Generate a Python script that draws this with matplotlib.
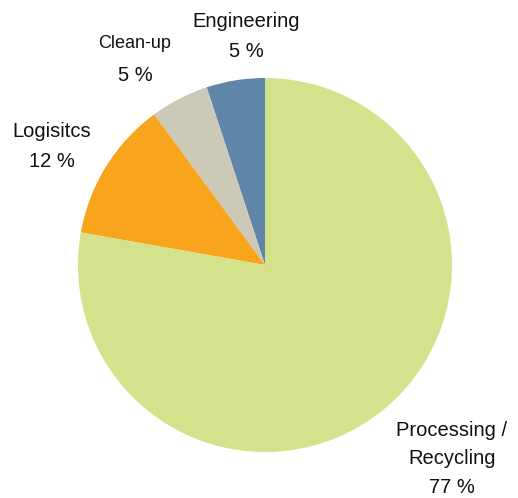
import matplotlib
matplotlib.use('Agg')
import matplotlib.pyplot as plt

# Anteile der Kosten (%), gegen den Uhrzeigersinn ab 12 Uhr
kategorien = ['Engineering', 'Clean-up', 'Logisitcs', 'Processing / Recycling']
anteile = [5, 5, 12, 77]
farben = ['#5f85a9', '#cdc9b9', '#f8a51d', '#d4e28b']

plt.rcParams['font.family'] = ['Liberation Sans', 'DejaVu Sans']

W, H = 518, 498
fig = plt.figure(figsize=(W / 100, H / 100), dpi=100)
cx, cy, r = 265, 265, 187
ax = fig.add_axes([(cx - r) / W, 1 - (cy + r) / H, 2 * r / W, 2 * r / H])
ax.pie(anteile, colors=farben, startangle=90, counterclock=True, radius=1,
       wedgeprops=dict(linewidth=0))
ax.set_xlim(-1, 1)
ax.set_ylim(-1, 1)
ax.axis('off')

# Beschriftungen: Zeilen pro Kategorie, Position in Pixeln (Mitte x, Grundlinie y)
zeilen = [
    (['Engineering', '5 %'], 246, [27, 57], [14.5, 14.5]),
    (['Clean-up', '5 %'], 135, [48, 81], [13, 14.5]),
    (['Logisitcs', '12 %'], 52, [137, 167], [14.5, 14.5]),
    (['Processing /', 'Recycling', '77 %'], 452, [436, 464, 493], [14.5, 14.5, 14.5]),
]
for texte, x, ys, groessen in zeilen:
    for t, y, gr in zip(texte, ys, groessen):
        fig.text(x / W, 1 - y / H, t, ha='center', va='baseline', fontsize=gr,
                 color='#111111')

fig.savefig('out.png', dpi=100)
